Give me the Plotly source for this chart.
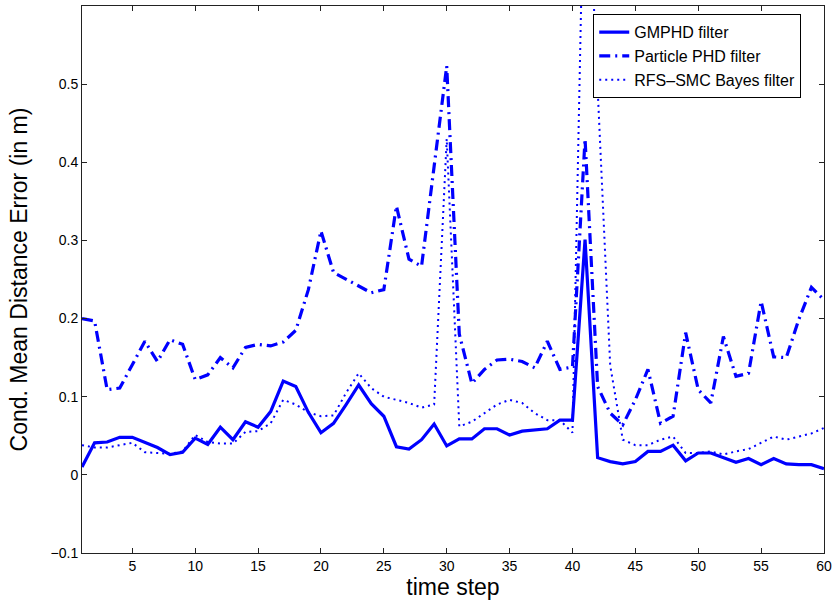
import plotly.graph_objects as go

time_step = list(range(1, 61))

gmphd = [0.010, 0.041, 0.042, 0.048, 0.048, 0.042, 0.035, 0.026, 0.029, 0.047,
         0.039, 0.061, 0.045, 0.068, 0.061, 0.081, 0.120, 0.113, 0.080, 0.054,
         0.066, 0.090, 0.115, 0.091, 0.075, 0.036, 0.033, 0.045, 0.065, 0.037,
         0.046, 0.046, 0.059, 0.059, 0.051, 0.056, 0.057, 0.059, 0.070, 0.070,
         0.301, 0.022, 0.017, 0.014, 0.017, 0.030, 0.030, 0.038, 0.018, 0.028,
         0.028, 0.022, 0.016, 0.021, 0.013, 0.021, 0.014, 0.013, 0.013, 0.008]

particle_phd = [0.200, 0.197, 0.109, 0.111, 0.141, 0.171, 0.145, 0.173, 0.167, 0.122,
                0.128, 0.150, 0.137, 0.163, 0.167, 0.165, 0.170, 0.185, 0.237, 0.312,
                0.259, 0.250, 0.242, 0.233, 0.237, 0.344, 0.276, 0.267, 0.395, 0.523,
                0.180, 0.117, 0.135, 0.147, 0.148, 0.145, 0.137, 0.171, 0.135, 0.138,
                0.430, 0.113, 0.079, 0.064, 0.096, 0.135, 0.066, 0.075, 0.182, 0.109,
                0.092, 0.177, 0.126, 0.130, 0.222, 0.151, 0.150, 0.199, 0.240, 0.224]

rfs_smc = [0.038, 0.035, 0.035, 0.038, 0.041, 0.029, 0.028, 0.027, 0.030, 0.051,
           0.042, 0.040, 0.040, 0.055, 0.056, 0.066, 0.096, 0.090, 0.080, 0.075,
           0.076, 0.105, 0.130, 0.111, 0.100, 0.096, 0.092, 0.086, 0.090, 0.430,
           0.062, 0.068, 0.079, 0.090, 0.096, 0.092, 0.079, 0.070, 0.070, 0.054,
           0.850, 0.500, 0.140, 0.045, 0.038, 0.038, 0.045, 0.049, 0.028, 0.028,
           0.030, 0.026, 0.030, 0.033, 0.041, 0.049, 0.045, 0.049, 0.053, 0.060]

series_names = ["GMPHD filter", "Particle PHD filter", "RFS\u2013SMC Bayes filter"]
x_ticks = [5, 10, 15, 20, 25, 30, 35, 40, 45, 50, 55, 60]
y_ticks = [-0.1, 0, 0.1, 0.2, 0.3, 0.4, 0.5]
y_tick_text = ["\u22120.1", "0", "0.1", "0.2", "0.3", "0.4", "0.5"]

blue = "#0000ff"
font_family = "Liberation Sans, Arial, Helvetica, sans-serif"

fig = go.Figure()
fig.add_trace(go.Scatter(x=time_step, y=gmphd, mode="lines", name=series_names[0],
                         line=dict(color=blue, width=3.2)))
fig.add_trace(go.Scatter(x=time_step, y=particle_phd, mode="lines", name=series_names[1],
                         line=dict(color=blue, width=3.2, dash="11px,5px,2px,5px")))
fig.add_trace(go.Scatter(x=time_step, y=rfs_smc, mode="lines", name=series_names[2],
                         line=dict(color=blue, width=2, dash="2px,4px")))

axis_common = dict(showline=True, linecolor="#222", linewidth=1, mirror="ticks",
                   ticks="inside", ticklen=5, tickcolor="#222", showgrid=False,
                   zeroline=False, tickfont=dict(size=14, color="black", family=font_family))

fig.update_xaxes(range=[1, 60], tickvals=x_ticks,
                 title=dict(text="time step", font=dict(size=23, color="black", family=font_family),
                            standoff=6),
                 **axis_common)
fig.update_yaxes(range=[-0.1, 0.6], tickvals=y_ticks, ticktext=y_tick_text,
                 title=dict(text="Cond. Mean Distance Error (in m)",
                            font=dict(size=23, color="black", family=font_family), standoff=16),
                 **axis_common)

fig.update_layout(
    width=835, height=606,
    margin=dict(l=82, r=11, t=6, b=53, autoexpand=False),
    paper_bgcolor="white", plot_bgcolor="white",
    font=dict(family=font_family, color="black"),
    showlegend=True,
    legend=dict(x=0.689, y=0.985, xanchor="left", yanchor="top",
                bgcolor="white", bordercolor="black", borderwidth=1,
                font=dict(size=16, color="black", family=font_family),
                itemwidth=30, tracegroupgap=0),
)

fig.write_html("out.html")
